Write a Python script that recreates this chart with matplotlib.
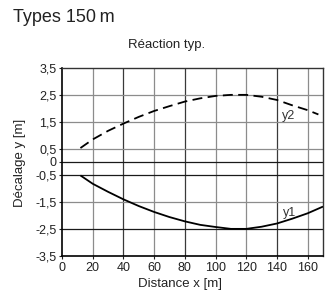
import matplotlib
matplotlib.use("Agg")
import matplotlib.pyplot as plt

# Data
x_y1 = [12, 20, 30, 40, 50, 60, 70, 80, 90, 100, 110, 120, 130, 140, 150, 160, 170]
y1 = [-0.5, -0.81, -1.11, -1.39, -1.64, -1.86, -2.05, -2.21, -2.34, -2.42, -2.49, -2.49,
      -2.41, -2.29, -2.11, -1.91, -1.66]
x_y2 = [12, 20, 30, 40, 50, 60, 70, 80, 90, 100, 110, 120, 130, 140, 150, 160, 167]
y2 = [0.52, 0.84, 1.16, 1.43, 1.68, 1.90, 2.08, 2.25, 2.37, 2.46, 2.5, 2.5,
      2.43, 2.31, 2.11, 1.93, 1.77]

x_ticks = [0, 20, 40, 60, 80, 100, 120, 140, 160]
y_ticks = [-3.5, -2.5, -1.5, -0.5, 0, 0.5, 1.5, 2.5, 3.5]
y_tick_labels = ["-3,5", "-2,5", "-1,5", "-0,5", "0", "0,5", "1,5", "2,5", "3,5"]

W, H = 332, 292
fig = plt.figure(figsize=(W / 100, H / 100), dpi=100)
ax = fig.add_axes([62 / W, 1 - 256 / H, (323 - 62) / W, (256 - 68) / H])

ax.set_xlim(0, 170)
ax.set_ylim(-3.5, 3.5)

dark_x = {40, 80, 140}
for xv in x_ticks[1:]:
    ax.axvline(xv, color="#3a3a3a" if xv in dark_x else "#8c8c8c", lw=0.9, zorder=1)
dark_y = {0, -0.5, -2.5}
for yv in y_ticks[1:-1]:
    ax.axhline(yv, color="#1a1a1a" if yv in dark_y else "#8c8c8c", lw=0.9, zorder=1)

ax.plot(x_y1, y1, color="black", lw=1.3, zorder=3, solid_capstyle="butt")
ax.plot(x_y2, y2, color="black", lw=1.3, ls=(0, (5.5, 3)), zorder=3)

lab_font = ["Liberation Sans", "DejaVu Sans"]
ax.text(143, 1.72, "y2", fontsize=9, ha="left", va="center", color="#333333", zorder=4,
        family=lab_font)
ax.text(144, -1.9, "y1", fontsize=9, ha="left", va="center", color="#333333", zorder=4,
        family=lab_font)

ax.set_xticks(x_ticks)
ax.set_xticklabels([str(v) for v in x_ticks])
ax.set_yticks(y_ticks)
ax.set_yticklabels(y_tick_labels)
ax.tick_params(axis="both", labelsize=9, length=2.5, width=0.8, pad=1.5, colors="#222222")

for s in ["left", "bottom"]:
    ax.spines[s].set_color("black")
    ax.spines[s].set_linewidth(1.2)
for s in ["top", "right"]:
    ax.spines[s].set_color("#333333")
    ax.spines[s].set_linewidth(1.0)

fig.text(13 / W, 1 - 18 / H, "Types 150\u2009m", fontsize=13, ha="left", va="center",
         family=lab_font, color="#222222")
fig.text(167 / W, 1 - 45 / H, "Réaction typ.", fontsize=9.5, ha="center", va="center",
         family=lab_font, color="#222222")
fig.text(180 / W, 1 - 284 / H, "Distance x [m]", fontsize=9.5, ha="center", va="center",
         family=lab_font, color="#222222")
fig.text(20 / W, 1 - 163 / H, "Décalage y [m]", fontsize=9.5, ha="center", va="center",
         rotation=90, family=lab_font, color="#222222")

for lbl in ax.get_xticklabels() + ax.get_yticklabels():
    lbl.set_family(lab_font)

fig.savefig("out.png", dpi=100)
